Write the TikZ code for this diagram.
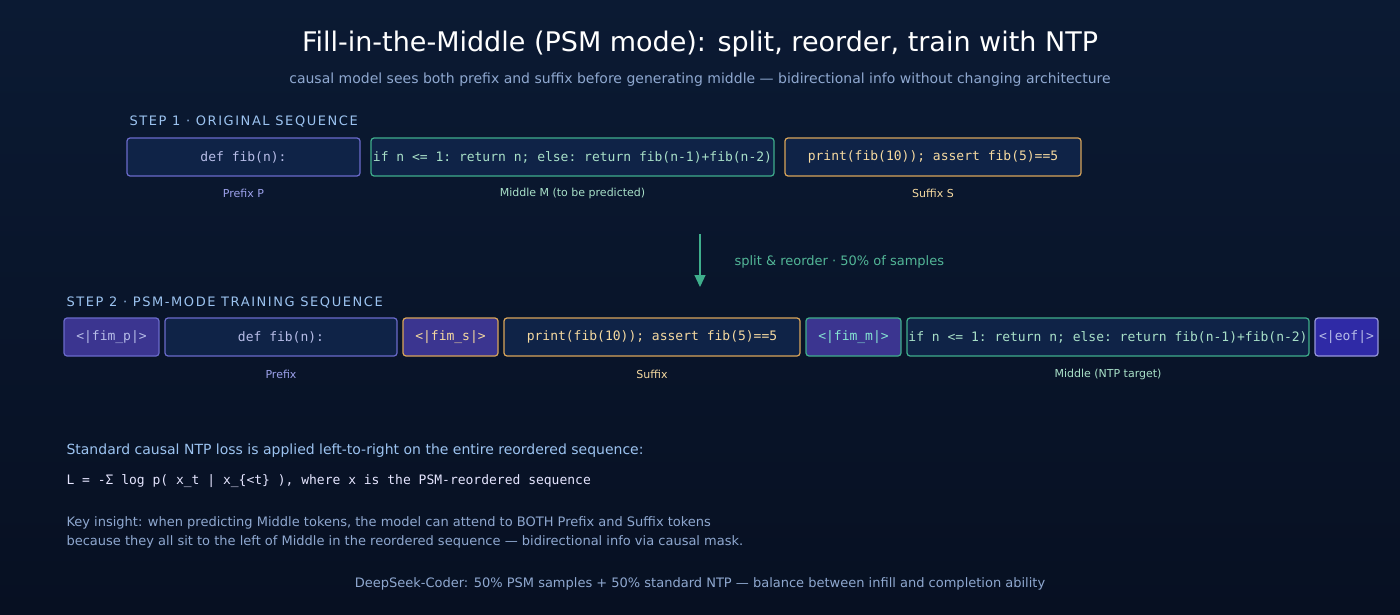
\documentclass[tikz,border=0pt]{standalone}
\usepackage{fontspec}
\setmainfont{DejaVu Sans}
\setsansfont{DejaVu Sans}
\setmonofont{DejaVu Sans Mono}
\usetikzlibrary{arrows.meta, positioning}
\definecolor{bgtop}{HTML}{0B1A33}
\definecolor{bgbot}{HTML}{071022}
\definecolor{boxfill}{HTML}{0F2347}
\definecolor{tokfill}{HTML}{3B3590}
\definecolor{Purple}{HTML}{6A6ACB}
\definecolor{Teal}{HTML}{3FAE8C}
\definecolor{Amber}{HTML}{D9A55A}
\definecolor{txtP}{HTML}{B7BDE8}
\definecolor{txtM}{HTML}{A8E0C8}
\definecolor{txtS}{HTML}{F5D9A0}
\definecolor{stepc}{HTML}{9CC3F0}
\definecolor{bodyc}{HTML}{8FA8D0}
\tikzset{
  seg/.style={draw, rounded corners=3pt, line width=1.2pt, fill=boxfill, minimum height=38pt,
    inner sep=0pt, font=\ttfamily\fontsize{13}{15}\selectfont},
  tok/.style={seg, fill=tokfill},
  lab/.style={font=\fontsize{11}{13}\selectfont},
  steplab/.style={anchor=west, text=stepc, font=\fontsize{13}{15}\selectfont\addfontfeature{LetterSpace=12}},
}
\begin{document}
\begin{tikzpicture}[x=1pt,y=-1pt]
\shade[top color=bgtop, bottom color=bgbot] (0,0) rectangle (1400,615);
\useasboundingbox (0,0) rectangle (1400,615);
\node (title) at (700,44) {\color{white}\fontsize{27}{30}\selectfont Fill-in-the-Middle (PSM mode): split, reorder, train with NTP};
\node (sub) at (700,80) {\color{bodyc}\fontsize{14}{16}\selectfont causal model sees both prefix and suffix before generating middle — bidirectional info without changing architecture};
% step 1
\node[steplab] (s1) at (126,122) {STEP 1 · ORIGINAL SEQUENCE};
\node[seg, draw=Purple, text=txtP, minimum width=233pt] (p1) at (243.5,157) {def fib(n):};
\node[seg, draw=Teal, text=txtM, minimum width=403pt] (m1) at (572.5,157) {if n <= 1: return n; else: return fib(n-1)+fib(n-2)};
\node[seg, draw=Amber, text=txtS, minimum width=296pt] (f1) at (933,157) {print(fib(10)); assert fib(5)==5};
\node[lab, text=txtP!85!blue] (lp1) at (243.5,193) {Prefix P};
\node[lab, text=txtM] (lm1) at (572.5,193) {Middle M (to be predicted)};
\node[lab, text=txtS] (lf1) at (933,193) {Suffix S};
% reorder arrow
\coordinate (a0) at (700,234);
\coordinate (a1) at (700,287);
\draw[Teal, line width=1.3pt, -{Triangle[length=12pt,width=11pt]}] (a0) -- (a1);
\node[anchor=west, text=Teal!90!white, font=\fontsize{13}{15}\selectfont] (al) at (731,262) {split \& reorder · 50\% of samples};
% step 2
\node[steplab] (s2) at (63,303) {STEP 2 · PSM-MODE TRAINING SEQUENCE};
\node[tok, draw=Purple, text=txtP, minimum width=95pt] (tp) at (111.5,337) {<|fim\_p|>};
\node[seg, draw=Purple, text=txtP, minimum width=232pt] (p2) at (281,337) {def fib(n):};
\node[tok, draw=Amber, text=txtS, minimum width=95pt] (ts) at (450.5,337) {<|fim\_s|>};
\node[seg, draw=Amber, text=txtS, minimum width=296pt] (f2) at (652,337) {print(fib(10)); assert fib(5)==5};
\node[tok, draw=Teal, text=txtM!80!cyan, minimum width=95pt] (tm) at (853.5,337) {<|fim\_m|>};
\node[seg, draw=Teal, text=txtM, minimum width=402pt] (m2) at (1108,337) {if n <= 1: return n; else: return fib(n-1)+fib(n-2)};
\node[tok, draw=Purple!70!white, fill=tokfill!80!blue, text=txtP, minimum width=63pt] (te) at (1346.5,337) {<|eof|>};
\node[lab, text=txtP!85!blue] (lp2) at (281,374) {Prefix};
\node[lab, text=txtS] (lf2) at (652,374) {Suffix};
\node[lab, text=txtM] (lm2) at (1108,374) {Middle (NTP target)};
% loss text
\node[anchor=west, text=stepc, font=\fontsize{14}{16}\selectfont] (l1) at (63,451) {Standard causal NTP loss is applied left-to-right on the entire reordered sequence:};
\node[anchor=west, text=white!90!blue, font=\ttfamily\fontsize{13}{15}\selectfont] (l2) at (63,481) {L = -Σ log p( x\_t | x\_\{<t\} ), where x is the PSM-reordered sequence};
\node[anchor=west, text=bodyc, align=left, font=\fontsize{13}{19}\selectfont] (l3) at (63,532) {Key insight: when predicting Middle tokens, the model can attend to BOTH Prefix and Suffix tokens\\because they all sit to the left of Middle in the reordered sequence — bidirectional info via causal mask.};
\node[text=bodyc, font=\fontsize{13}{15}\selectfont] (foot) at (700,584) {DeepSeek-Coder: 50\% PSM samples + 50\% standard NTP — balance between infill and completion ability};
\end{tikzpicture}
\end{document}
